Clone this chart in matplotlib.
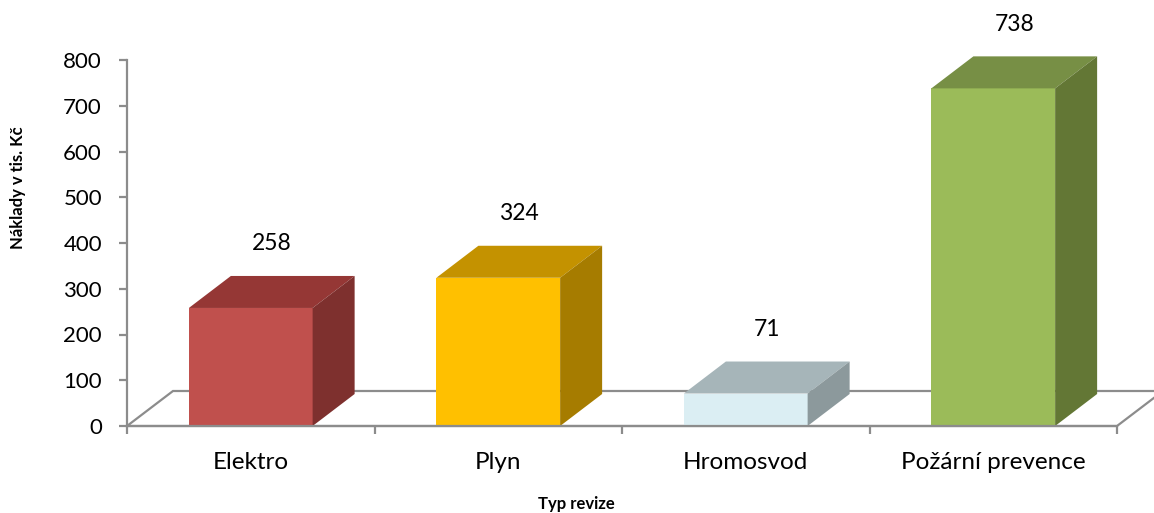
import numpy as np
import matplotlib.pyplot as plt
from matplotlib.patches import Polygon

plt.rcParams['font.family'] = ['Lato', 'DejaVu Sans']

# data
categories = ["Elektro", "Plyn", "Hromosvod", "Požární prevence"]
values = [258, 324, 71, 738]
y_ticks = [0, 100, 200, 300, 400, 500, 600, 700, 800]

# face colours (front, top, side)
front_colors = ["#C0504D", "#FFC000", "#DBEEF3", "#9BBB59"]
top_colors = ["#953735", "#C49200", "#A6B5B9", "#778F45"]
side_colors = ["#7E302E", "#A67C00", "#8C999C", "#637735"]
grey = "#8C8C8C"

W, H = 1154, 513
fig = plt.figure(figsize=(W / 100, H / 100), dpi=100)
ax = fig.add_axes([127 / W, 87 / H, 990 / W, 366 / H])
ax.set_xlim(0, len(categories))
ax.set_ylim(0, 800)

# pseudo-3D depth in data units
px_x = 990 / len(categories)
px_y = 366 / 800
dx, dy = 42 / px_x, 32 / px_y
fdx, fdy = 46 / px_x, 35 / px_y
half = 0.25

# floor
floor = Polygon([(0, 0), (len(categories), 0),
                 (len(categories) + fdx, fdy), (fdx, fdy)],
                closed=True, fill=False, edgecolor=grey, lw=1.6,
                clip_on=False, zorder=1)
ax.add_patch(floor)

centers = np.arange(len(categories)) + 0.5
for c, v, fc, tc, sc in zip(centers, values, front_colors, top_colors, side_colors):
    l, r = c - half, c + half
    ax.add_patch(Polygon([(l, 0), (r, 0), (r, v), (l, v)], closed=True,
                         facecolor=fc, edgecolor='none', clip_on=False, zorder=3))
    ax.add_patch(Polygon([(l, v), (r, v), (r + dx, v + dy), (l + dx, v + dy)], closed=True,
                         facecolor=tc, edgecolor='none', clip_on=False, zorder=3))
    ax.add_patch(Polygon([(r, 0), (r + dx, dy), (r + dx, v + dy), (r, v)], closed=True,
                         facecolor=sc, edgecolor='none', clip_on=False, zorder=3))
    ax.text(c + dx / 2, v + dy + 32 / px_y, str(v), ha='center', va='center',
            fontsize=16.5, color='black', clip_on=False)

for s in ['top', 'right']:
    ax.spines[s].set_visible(False)
for s in ['left', 'bottom']:
    ax.spines[s].set_color(grey)
    ax.spines[s].set_linewidth(1.6)
    ax.spines[s].set_zorder(4)

ax.set_yticks(y_ticks)
ax.tick_params(axis='y', direction='out', length=6, width=1.6, color=grey,
               labelsize=16, pad=12)
ax.set_xticks(np.arange(len(categories) + 1))
ax.set_xticklabels([])
ax.tick_params(axis='x', which='major', direction='out', length=6, width=1.6, color=grey)
ax.set_xticks(centers, minor=True)
ax.set_xticklabels(categories, minor=True)
ax.tick_params(axis='x', which='minor', length=0, labelsize=17.5, pad=19)

fig.text(18 / W, 1 - 188 / H, "Náklady v tis. Kč", rotation=90, ha='center', va='center',
         fontsize=12, fontweight='bold')
fig.text(576 / W, 1 - 504 / H, "Typ revize", ha='center', va='center',
         fontsize=12, fontweight='bold')

fig.savefig("out.png", dpi=100)
